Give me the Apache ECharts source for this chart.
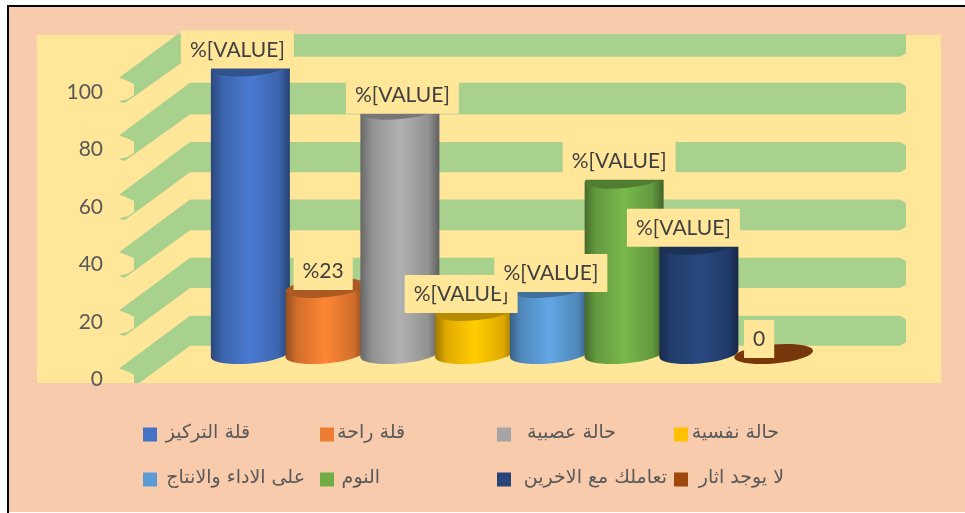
<!DOCTYPE html>
<html>
<head>
<meta charset="utf-8">
<style>html,body{margin:0;padding:0;background:#fff}#c{width:965px;height:513px}</style>
<script src="https://cdn.jsdelivr.net/npm/echarts@6/dist/echarts.min.js"></script>
</head>
<body>
<div id="c"></div>
<script>
const categories = ['قلة التركيز','قلة راحة','حالة عصبية','حالة نفسية','على الاداء والانتاج','النوم','تعاملك مع الاخرين','لا يوجد اثار'];
const values = [100, 23, 85, 15, 23, 61, 38, 0];
const dataLabels = ['%[VALUE]','%23','%[VALUE]','%[VALUE]','%[VALUE]','%[VALUE]','%[VALUE]','0'];
const bandStarts = [0, 20, 40, 60, 80, 100];
const bandEnds = [10.4, 30.4, 50.6, 70.5, 91, 111];
const yMin = 0, yMax = 120, yStep = 20;

const colors = ['#4472C4','#ED7D31','#A5A5A5','#FFC000','#5B9BD5','#70AD47','#264478','#9E480E'];
const labelShift = [-13, -2, 2.5, -13.5, 1.5, -5, -15.5, -14.5];
const labelLift = [0, 0, -2, 0, -2, 1, 0, -2];
const legendLeft = [143, 320, 497, 674, 143, 320, 497, 674];
const legendTop = [424, 424, 424, 424, 469, 469, 469, 469];
const legendRight = [250, 405, 616, 779, 305, 380, 667, 784];

const PEACH = '#F8CBAD', PANEL = '#FFE699', BAND = '#A9D18E';
const TEXT = '#595959', LABEL = '#404040';
const LATIN = 'Lato, Carlito, sans-serif';
const panel = {x: 37, y: 35, w: 904, h: 348};
const RX = 39.5, RY = 9.5, TILT = 3.5, BASE_LIFT = 24, WALL_LIFT = 32.3, WALL_SCALE = 1.005;

function shade(hex, f) {
  const n = parseInt(hex.slice(1), 16);
  const c = s => Math.max(0, Math.min(255, Math.round(((n >> s) & 255) * f)));
  return 'rgb(' + c(16) + ',' + c(8) + ',' + c(0) + ')';
}
function sideGradient(hex) {
  return new echarts.graphic.LinearGradient(0, 0, 1, 0, [
    {offset: 0, color: shade(hex, 0.62)},
    {offset: 0.14, color: shade(hex, 0.88)},
    {offset: 0.5, color: shade(hex, 1.07)},
    {offset: 0.86, color: shade(hex, 0.88)},
    {offset: 1, color: shade(hex, 0.58)}
  ]);
}

function renderBand(params, api) {
  const g = params.coordSys;
  const s = api.value(0), e = api.value(1);
  const wy = v => api.coord([0, v * WALL_SCALE])[1] - WALL_LIFT;
  const ty = wy(e), by = wy(s);
  const back = g.x - 23, right = g.x + 693, cf = 6;
  const outer = g.x - 93, inner = g.x - 79;
  const pts = [
    [back, ty], [right - cf, ty], [right, ty + 3.5], [right, by - 3.5], [right - cf, by],
    [back, by],
    [g.x - 88, ty + 78], [outer, ty + 77], [outer, ty + 76],
    [g.x - 85, ty + 74], [inner, ty + 70], [inner, ty + 59], [g.x - 85, ty + 56], [outer, ty + 53], [outer, ty + 52]
  ];
  return {
    type: 'polygon',
    shape: {points: pts},
    style: {fill: BAND},
    z2: 1,
    clipPath: {type: 'rect', shape: {x: panel.x, y: panel.y - 1, width: panel.w, height: panel.h + 1}}
  };
}

function renderBar(i) {
  return function (params, api) {
    const x = api.coord([api.value(0), 0])[0];
    const base = api.coord([0, 0])[1] - BASE_LIFT;
    const top = api.coord([0, api.value(1)])[1] - BASE_LIFT;
    const hex = colors[i];
    const rotated = (cy, fill, z) => ({
      type: 'ellipse',
      shape: {cx: x, cy: cy, rx: RX, ry: RY},
      rotation: 0.09, originX: x, originY: cy,
      style: {fill: fill}, z2: z
    });
    const children = [];
    if (base - top > 1) {
      children.push(rotated(base, sideGradient(hex), 10 + i * 3));
      children.push({
        type: 'polygon',
        shape: {points: [[x - RX, top + TILT], [x + RX, top - TILT], [x + RX, base - TILT], [x - RX, base + TILT]]},
        style: {fill: sideGradient(hex)}, z2: 10 + i * 3
      });
      children.push(rotated(top, shade(hex, 0.72), 11 + i * 3));
    } else {
      children.push(rotated(top, shade(hex, 0.76), 11 + i * 3));
    }
    children.push({
      type: 'text',
      style: {
        text: dataLabels[i],
        x: x + labelShift[i],
        y: top + 2 - labelLift[i],
        align: 'center', verticalAlign: 'bottom',
        font: '21px ' + LATIN,
        fill: LABEL,
        backgroundColor: PANEL,
        padding: [9, 9, 8, 9]
      },
      z2: 100 + i
    });
    return {type: 'group', children: children};
  };
}

const barSeries = categories.map((name, i) => ({
  type: 'custom',
  name: name,
  coordinateSystem: 'cartesian2d',
  itemStyle: {color: colors[i]},
  data: [[i, values[i]]],
  encode: {x: 0, y: 1},
  renderItem: renderBar(i),
  silent: true
}));

const legends = categories.map((name, i) => ({
  data: [name],
  left: legendLeft[i],
  top: legendTop[i],
  icon: 'rect',
  itemWidth: 14,
  itemHeight: 14,
  padding: 0,
  selectedMode: false,
  formatter: n => '{t|' + n + '}',
  textStyle: {
    rich: {t: {
      color: TEXT,
      fontFamily: '"DejaVu Sans", "Noto Sans", sans-serif',
      fontSize: 19,
      width: legendRight[i] - legendLeft[i] - 19,
      align: 'right',
      padding: [0, 0, 2, 0]
    }}
  }
}));

const chart = echarts.init(document.getElementById('c'), null, {renderer: 'canvas'});
chart.setOption({
  animation: false,
  backgroundColor: '#ffffff',
  grid: {left: 213, width: 598, top: 33, bottom: 135, containLabel: false},
  xAxis: {type: 'category', data: categories, show: false},
  yAxis: {
    type: 'value', min: yMin, max: yMax, interval: yStep,
    axisLine: {show: false}, axisTick: {show: false}, splitLine: {show: false},
    axisLabel: {
      margin: 110, color: TEXT,
      formatter: v => (v === yMax ? '' : '{n|' + v + '}'),
      rich: {n: {fontFamily: LATIN, fontSize: 21, color: TEXT, padding: [3, 0, 0, 0]}}
    }
  },
  legend: legends,
  graphic: {elements: [
    {type: 'rect', z: -5, shape: {x: 9, y: 7, width: 956, height: 505}, style: {fill: PEACH}},
    {type: 'rect', z: -4, shape: {x: 7, y: 5, width: 958, height: 2}, style: {fill: '#000'}},
    {type: 'rect', z: -4, shape: {x: 7, y: 5, width: 2, height: 508}, style: {fill: '#000'}},
    {type: 'rect', z: -4, shape: {x: panel.x, y: panel.y, width: panel.w, height: panel.h}, style: {fill: PANEL}}
  ]},
  series: [{
    type: 'custom',
    name: 'bands',
    coordinateSystem: 'cartesian2d',
    data: bandStarts.map((s, i) => [s, bandEnds[i]]),
    encode: {x: -1, y: [0, 1]},
    renderItem: renderBand,
    silent: true,
    z: 1
  }].concat(barSeries.map(s => Object.assign(s, {z: 1})))
});
</script>
</body>
</html>
